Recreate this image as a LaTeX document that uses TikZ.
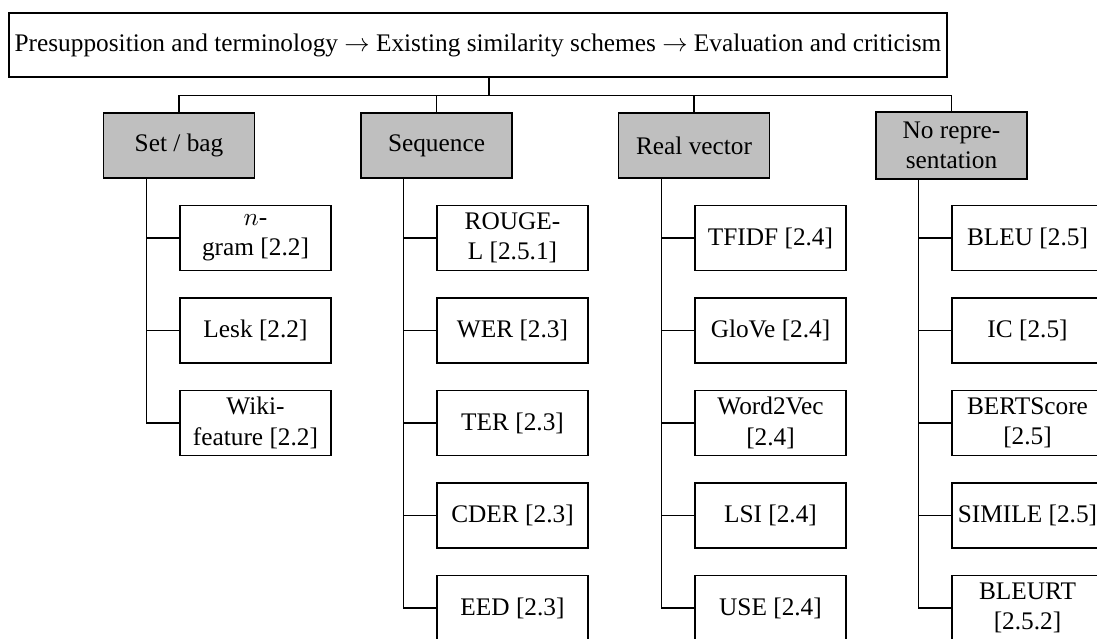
\documentclass[tikz,border=0pt]{standalone}
\usepackage{fontspec}
\setmainfont{Liberation Serif}
\begin{document}
\begin{tikzpicture}[x=0.395pt,y=-0.395pt,
  box/.style={draw, line width=0.6pt, align=center, inner sep=0pt,
    minimum width=59.7pt, minimum height=25.7pt,
    font=\fontsize{10}{12}\selectfont},
  cat/.style={box, fill=black!25},
  leaf/.style={box},
  link/.style={draw, line width=0.45pt}]
\useasboundingbox (0,0) rectangle (1097,639);

% root
\node[box, minimum width=370.5pt, minimum height=25.3pt] (top) at (478,45)
  {Presupposition and terminology $\rightarrow$ Existing similarity schemes $\rightarrow$ Evaluation and criticism};

% categories
\node[cat] (setbag) at (179,145.5) {Set / bag};
\node[cat] (seq)    at (436.5,145.5) {Sequence};
\node[cat] (real)   at (694,145.5) {Real vector};
\node[cat, minimum height=26.5pt] (norep) at (951.5,145.5) {No repre-\\sentation};

% Set / bag children
\node[leaf] (s1) at (255.5,238) {$n$-\\gram [2.2]};
\node[leaf] (s2) at (255.5,330.5) {Lesk [2.2]};
\node[leaf] (s3) at (255.5,423) {Wiki-\\feature [2.2]};

% Sequence children
\node[leaf] (q1) at (512.5,238) {ROUGE-\\L [2.5.1]};
\node[leaf] (q2) at (512.5,330.5) {WER [2.3]};
\node[leaf] (q3) at (512.5,423) {TER [2.3]};
\node[leaf] (q4) at (512.5,515.5) {CDER [2.3]};
\node[leaf] (q5) at (512.5,608) {EED [2.3]};

% Real vector children
\node[leaf] (r1) at (770.5,238) {TFIDF [2.4]};
\node[leaf] (r2) at (770.5,330.5) {GloVe [2.4]};
\node[leaf] (r3) at (770.5,423) {Word2Vec\\{}[2.4]};
\node[leaf] (r4) at (770.5,515.5) {LSI [2.4]};
\node[leaf] (r5) at (770.5,608) {USE [2.4]};

% No representation children
\node[leaf] (n1) at (1027.5,238) {BLEU [2.5]};
\node[leaf] (n2) at (1027.5,330.5) {IC [2.5]};
\node[leaf] (n3) at (1027.5,423) {BERTScore\\{}[2.5]};
\node[leaf] (n4) at (1027.5,515.5) {SIMILE [2.5]};
\node[leaf] (n5) at (1027.5,608) {BLEURT\\{}[2.5.2]};

% root to categories
\draw[link] ([xshift=4.35pt]top.south) -- ++(0,18) coordinate (hub);
\draw[link] (hub) -| (setbag.north);
\draw[link] (hub) -| (seq.north);
\draw[link] (hub) -| (real.north);
\draw[link] (hub) -| (norep.north);

% categories to leaves
\foreach \c in {s1,s2,s3} \draw[link] ([xshift=-13pt]setbag.south) |- (\c.west);
\foreach \c in {q1,q2,q3,q4,q5} \draw[link] ([xshift=-13pt]seq.south) |- (\c.west);
\foreach \c in {r1,r2,r3,r4,r5} \draw[link] ([xshift=-13pt]real.south) |- (\c.west);
\foreach \c in {n1,n2,n3,n4,n5} \draw[link] ([xshift=-13pt]norep.south) |- (\c.west);
\end{tikzpicture}
\end{document}
